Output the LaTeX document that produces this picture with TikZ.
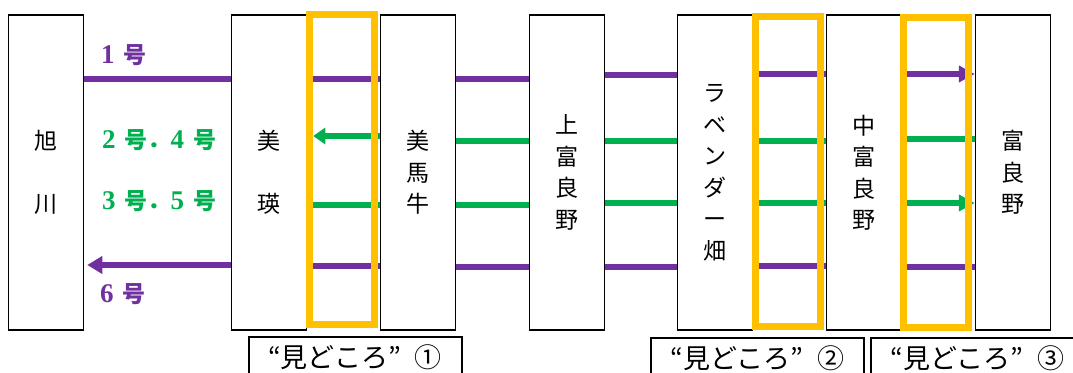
\documentclass[tikz,border=0pt]{standalone}
\usepackage{fontspec}
\newfontfamily\jpfont{Noto Sans CJK JP}
\newfontfamily\digitfont{Liberation Serif}
\usetikzlibrary{arrows.meta}
\definecolor{linepurple}{RGB}{112,48,160}
\definecolor{linegreen}{RGB}{0,176,80}
\definecolor{spotyellow}{RGB}{255,192,0}
\def\go#1{{\digitfont\bfseries\fontsize{27}{27}\selectfont #1}\hspace{9pt}号}
\tikzset{
	station/.style={draw, line width=1.5pt, minimum width=75pt, minimum height=315pt, inner sep=0pt, align=center, font=\jpfont\fontsize{23}{31.5}\selectfont},
	spot/.style={draw=spotyellow, line width=7pt, minimum width=65pt, minimum height=310pt, inner sep=0pt},
	note/.style={draw, line width=2pt, minimum width=213pt, minimum height=40pt, inner sep=0pt, font=\jpfont\fontsize{27}{27}\selectfont},
	purpleline/.style={linepurple, line width=5.5pt},
	greenline/.style={linegreen, line width=5.5pt},
	trainno/.style={anchor=west, inner sep=0pt, font=\jpfont\bfseries\fontsize{23}{23}\selectfont},
}

\begin{document}
\begin{tikzpicture}[x=1pt, y=-1pt]
		%%%%% START %%%%%
		\useasboundingbox (0,0) rectangle (1073,372);
		
		\node[station] (asahikawa) at (46,172.5) {旭\\[31.5pt]川};
		\node[station] (biei) at (269,172.5) {美\\[31.5pt]瑛};
		\node[station] (bibaushi) at (418,172.5) {美\\馬\\牛};
		\node[station] (kamifurano) at (567,172.5) {上\\富\\良\\野};
		\node[station] (lavender) at (715,172.5) {ラ\\ベ\\ン\\ダ\\ー\\畑};
		\node[station] (nakafurano) at (864,172.5) {中\\富\\良\\野};
		\node[station] (furano) at (1013,172.5) {富\\良\\野};
		
		\draw[purpleline] (asahikawa.east |- 0,79) -- (biei.west |- 0,79);
		\draw[purpleline, -{Triangle[length=15pt,width=17pt]}, shorten >=3pt] (biei.west |- 0,265) -- (asahikawa.east |- 0,265);
		
		\draw[purpleline] (biei.east |- 0,79) -- (bibaushi.west |- 0,79);
		\draw[greenline, -{Triangle[length=12pt,width=16pt]}, shorten >=6pt] (bibaushi.west |- 0,136) -- (biei.east |- 0,136);
		\draw[greenline] (biei.east |- 0,205) -- (bibaushi.west |- 0,205);
		\draw[purpleline] (biei.east |- 0,266) -- (bibaushi.west |- 0,266);
		
		\draw[purpleline] (bibaushi.east |- 0,79) -- (kamifurano.west |- 0,79);
		\draw[greenline] (bibaushi.east |- 0,141) -- (kamifurano.west |- 0,141);
		\draw[greenline] (bibaushi.east |- 0,205) -- (kamifurano.west |- 0,205);
		\draw[purpleline] (bibaushi.east |- 0,267) -- (kamifurano.west |- 0,267);
		
		\draw[purpleline] (kamifurano.east |- 0,75) -- (lavender.west |- 0,75);
		\draw[greenline] (kamifurano.east |- 0,141) -- (lavender.west |- 0,141);
		\draw[greenline] (kamifurano.east |- 0,203) -- (lavender.west |- 0,203);
		\draw[purpleline] (kamifurano.east |- 0,267) -- (lavender.west |- 0,267);
		
		\draw[purpleline] (lavender.east |- 0,74) -- (nakafurano.west |- 0,74);
		\draw[greenline] (lavender.east |- 0,141) -- (nakafurano.west |- 0,141);
		\draw[greenline] (lavender.east |- 0,203) -- (nakafurano.west |- 0,203);
		\draw[purpleline] (lavender.east |- 0,266) -- (nakafurano.west |- 0,266);
		
		\draw[purpleline, -{Triangle[length=16pt,width=16pt]}] (nakafurano.east |- 0,74) -- (furano.west |- 0,74);
		\draw[greenline] (nakafurano.east |- 0,139) -- (furano.west |- 0,139);
		\draw[greenline, -{Triangle[length=16pt,width=16pt]}] (nakafurano.east |- 0,203) -- (furano.west |- 0,203);
		\draw[purpleline] (nakafurano.east |- 0,267) -- (furano.west |- 0,267);
		
		\node[spot] (spot1) at (341.7,169.5) {};
		\node[spot] (spot2) at (787.5,171) {};
		\node[spot] (spot3) at (936,172) {};
		
		\node[trainno, linepurple] (no1) at (101,55) {\go{1}};
		\node[trainno, linegreen] (no24) at (102,140) {\go{2}．\go{4}};
		\node[trainno, linegreen] (no35) at (102,201) {\go{3}．\go{5}};
		\node[trainno, linepurple] (no6) at (100,294) {\go{6}};
		
		\node[note] (note1) at (355,357) {“見どころ”\hspace{14pt}①};
		\node[note] (note2) at (757.5,358) {“見どころ”\hspace{14pt}②};
		\node[note] (note3) at (977.5,358) {“見どころ”\hspace{14pt}③};
		%%%%% END %%%%%
\end{tikzpicture}
\end{document}
